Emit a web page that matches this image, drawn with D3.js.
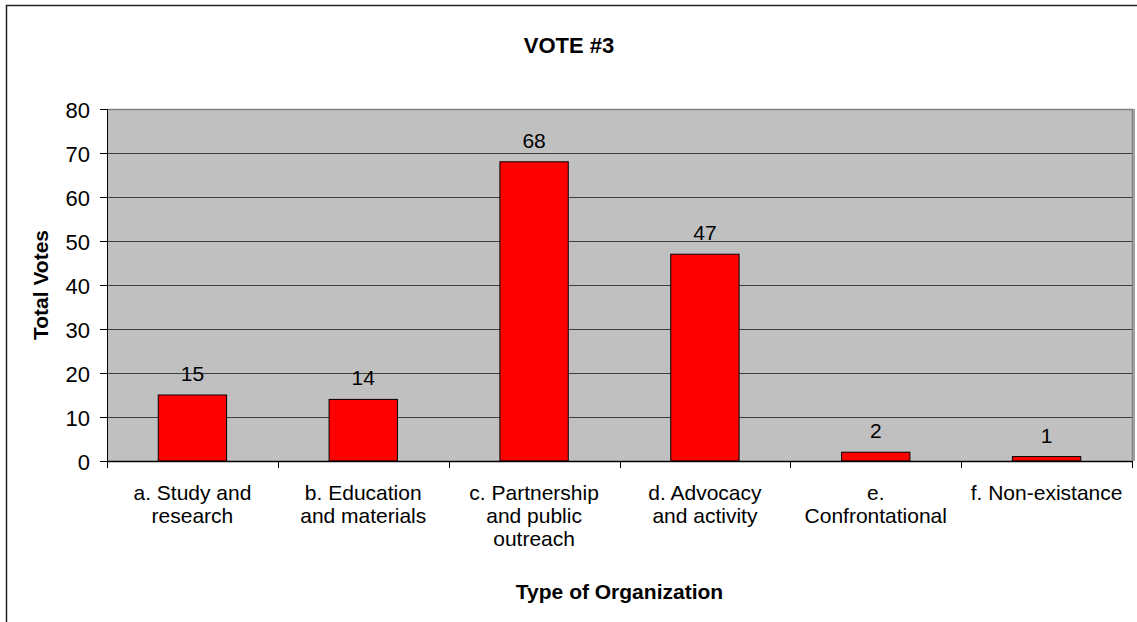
<!DOCTYPE html>
<html><head><meta charset="utf-8">
<script src="https://cdn.jsdelivr.net/npm/d3@7"></script>
<style>body{margin:0;background:#fff}svg{display:block;font-family:"Liberation Sans",Arial,sans-serif}</style>
</head><body>
<svg id="c" width="1137" height="622"></svg>
<script>
const categories = [
  ["a. Study and","research"],
  ["b. Education","and materials"],
  ["c. Partnership","and public","outreach"],
  ["d. Advocacy","and activity"],
  ["e.","Confrontational"],
  ["f. Non-existance"]
];
const votes = [15, 14, 68, 47, 2, 1];
const yTicks = [0,10,20,30,40,50,60,70,80];
const title = "VOTE #3";
const xTitle = "Type of Organization";
const yTitle = "Total Votes";

const svg = d3.select("#c");
const L = 107, R = 1132, T = 109, B = 461;
const FS = 21;
const x = d3.scaleBand().domain(d3.range(categories.length)).range([L, R]).paddingInner(0).paddingOuter(0);
const y = d3.scaleLinear().domain([0, 80]).range([B, T]);

// outer border
svg.append("rect").attr("x",6.5).attr("y",5.5).attr("width",1140).attr("height",630)
  .attr("fill","#fff").attr("stroke","#222").attr("stroke-width",1.5);

// plot bg
svg.append("rect").attr("x",L).attr("y",T).attr("width",R-L).attr("height",B-T).attr("fill","#c0c0c0");
// plot top/right border
svg.append("path").attr("d",`M${L},${T+0.5}H${R+0.5}V${B}`).attr("fill","none").attr("stroke","#808080").attr("stroke-width",1.5);
svg.append("rect").attr("x",R+1).attr("y",T).attr("width",2).attr("height",B-T).attr("fill","#a0a0a0");

// gridlines
svg.append("g").selectAll("line").data(yTicks.filter(d=>d>0 && d<80)).join("line")
  .attr("x1",L).attr("x2",R).attr("y1",d=>Math.round(y(d))+0.5).attr("y2",d=>Math.round(y(d))+0.5)
  .attr("stroke","#404040").attr("stroke-width",1);

// bars
const bw = x.bandwidth()*0.4;
svg.append("g").selectAll("rect").data(votes).join("rect")
  .attr("x",(d,i)=>x(i)+x.bandwidth()/2-bw/2).attr("width",bw)
  .attr("y",d=>y(d)).attr("height",d=>B-y(d))
  .attr("fill","#ff0000").attr("stroke","#000").attr("stroke-width",1);

// data labels
svg.append("g").selectAll("text").data(votes).join("text")
  .attr("x",(d,i)=>x(i)+x.bandwidth()/2).attr("y",d=>y(d)-14)
  .attr("text-anchor","middle").attr("font-size",FS).attr("fill","#000").text(d=>d);

// y axis
const ya = d3.axisLeft(y).tickValues(yTicks).tickSize(7).tickPadding(10);
const gy = svg.append("g").attr("transform",`translate(${L},0)`).call(ya);
gy.selectAll("text").attr("font-size",FS+1).attr("fill","#000").attr("font-family","Liberation Sans, Arial, sans-serif").attr("dy","0.4em");
gy.selectAll("line").attr("stroke","#000");
gy.select(".domain").attr("d",`M0.5,${T}V${B}`).attr("stroke","#000");

// x axis
const gx = svg.append("g").attr("transform",`translate(0,${B})`);
gx.append("line").attr("x1",L).attr("x2",R).attr("y1",0.5).attr("y2",0.5).attr("stroke","#000").attr("stroke-width",1.5);
gx.selectAll(".tk").data(d3.range(categories.length+1)).join("line").attr("class","tk")
  .attr("x1",i=>Math.round(L+i*x.bandwidth())+0.5).attr("x2",i=>Math.round(L+i*x.bandwidth())+0.5)
  .attr("y1",0).attr("y2",7).attr("stroke","#000");
const lab = svg.append("g").selectAll("text").data(categories).join("text")
  .attr("x",(d,i)=>x(i)+x.bandwidth()/2).attr("y",500)
  .attr("text-anchor","middle").attr("font-size",FS).attr("fill","#000");
lab.selectAll("tspan").data(d=>d).join("tspan")
  .attr("x",function(){return this.parentNode.getAttribute("x");})
  .attr("dy",(d,i)=>i===0?0:23).text(d=>d);

// titles
svg.append("text").attr("x",569).attr("y",53).attr("text-anchor","middle")
  .attr("font-size",22).attr("font-weight","bold").text(title);
svg.append("text").attr("x",(L+R)/2).attr("y",599).attr("text-anchor","middle")
  .attr("font-size",FS).attr("font-weight","bold").text(xTitle);
svg.append("text").attr("transform",`translate(48,${(T+B)/2}) rotate(-90)`).attr("text-anchor","middle")
  .attr("font-size",FS).attr("font-weight","bold").text(yTitle);
</script>
</body></html>
